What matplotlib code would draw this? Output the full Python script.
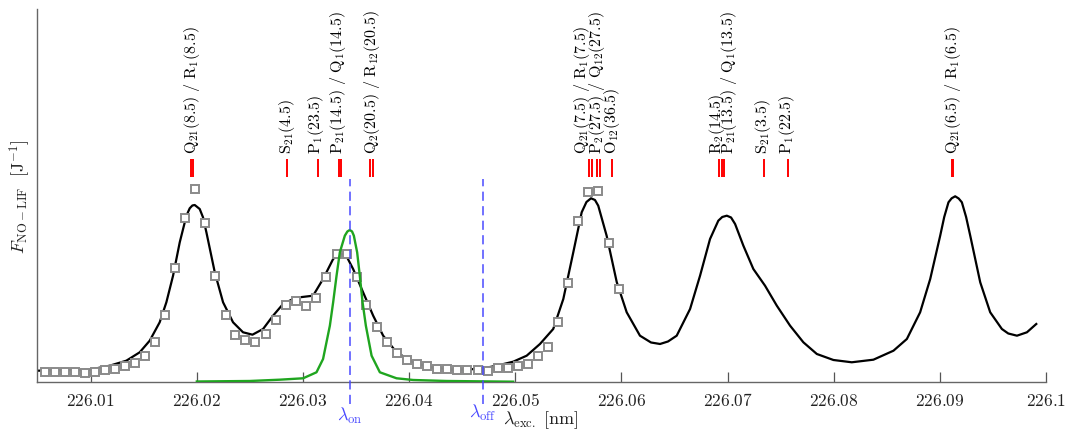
import matplotlib
matplotlib.use('Agg')
import matplotlib.pyplot as plt
from matplotlib.ticker import FuncFormatter

plt.rcParams['mathtext.fontset'] = 'cm'
plt.rcParams['font.family'] = ['DejaVu Serif']

# fitted spectrum (black line)
fit_wl = [226.00503, 226.00991, 226.01179, 226.01336, 226.01462, 226.01556, 226.01650,
          226.01713, 226.01776, 226.01839, 226.01902, 226.01933, 226.01958, 226.01980,
          226.02027, 226.02058, 226.02090, 226.02169, 226.02247, 226.02341, 226.02435,
          226.02524, 226.02624, 226.02718, 226.02812, 226.02907, 226.02970, 226.03095,
          226.03189, 226.03284, 226.03328, 226.03363, 226.03385, 226.03410, 226.03472,
          226.03566, 226.03661, 226.03755, 226.03881, 226.04038, 226.04195, 226.04415,
          226.04666, 226.04824, 226.04980, 226.05107, 226.05232, 226.05357, 226.05452,
          226.05546, 226.05625, 226.05670, 226.05713, 226.05750, 226.05781, 226.05860,
          226.05955, 226.06049, 226.06174, 226.06278, 226.06363, 226.06438, 226.06520,
          226.06646, 226.06740, 226.06834, 226.06912, 226.06949, 226.06992, 226.07032,
          226.07070, 226.07148, 226.07242, 226.07352, 226.07463, 226.07588, 226.07713,
          226.07840, 226.07996, 226.08169, 226.08373, 226.08562, 226.08688, 226.08813,
          226.08908, 226.09002, 226.09040, 226.09080, 226.09110, 226.09143, 226.09176,
          226.09206, 226.09246, 226.09285, 226.09379, 226.09473, 226.09583, 226.09643,
          226.09725, 226.09819, 226.09907]
fit_val = [0.113, 0.123, 0.163, 0.213, 0.297, 0.413, 0.597,
           0.797, 1.063, 1.397, 1.663, 1.737, 1.765, 1.77,
           1.73, 1.647, 1.497, 1.097, 0.797, 0.597, 0.497,
           0.473, 0.53, 0.663, 0.78, 0.83, 0.847, 0.863,
           1.03, 1.23, 1.27, 1.28, 1.275, 1.257, 1.13,
           0.897, 0.663, 0.463, 0.297, 0.197, 0.147, 0.123,
           0.13, 0.163, 0.203, 0.263, 0.38, 0.53, 0.83,
           1.297, 1.697, 1.80, 1.837, 1.82, 1.763, 1.463,
           1.0, 0.697, 0.463, 0.395, 0.38, 0.405, 0.463,
           0.73, 1.063, 1.43, 1.613, 1.65, 1.663, 1.645,
           1.58, 1.363, 1.13, 0.963, 0.763, 0.563, 0.397,
           0.28, 0.22, 0.197, 0.223, 0.313, 0.43, 0.697,
           1.03, 1.463, 1.65, 1.797, 1.837, 1.857, 1.835,
           1.797, 1.65, 1.463, 0.997, 0.697, 0.53, 0.485,
           0.463, 0.497, 0.58]

# measured points (grey squares)
meas_wl = [226.00566, 226.00661, 226.00755, 226.00849, 226.00943, 226.01038, 226.01132,
           226.01226, 226.01320, 226.01415, 226.01509, 226.01603, 226.01697, 226.01792,
           226.01886, 226.01980, 226.02081, 226.02175, 226.02270, 226.02364, 226.02458,
           226.02552, 226.02647, 226.02741, 226.02838, 226.02932, 226.03026, 226.03121,
           226.03215, 226.03316, 226.03410, 226.03504, 226.03598, 226.03693, 226.03787,
           226.03881, 226.03976, 226.04070, 226.04164, 226.04264, 226.04358, 226.04452,
           226.04547, 226.04645, 226.04739, 226.04833, 226.04927, 226.05022, 226.05116,
           226.05213, 226.05310, 226.05404, 226.05499, 226.05593, 226.05687, 226.05781,
           226.05879, 226.05974]
meas_val = [0.10, 0.10, 0.10, 0.10, 0.093, 0.10, 0.117,
            0.13, 0.157, 0.19, 0.26, 0.403, 0.67, 1.143,
            1.64, 1.927, 1.59, 1.06, 0.673, 0.473, 0.417,
            0.40, 0.48, 0.617, 0.77, 0.813, 0.763, 0.843,
            1.047, 1.283, 1.283, 1.047, 0.77, 0.547, 0.397,
            0.287, 0.22, 0.18, 0.163, 0.127, 0.127, 0.12,
            0.12, 0.12, 0.113, 0.143, 0.143, 0.157, 0.18,
            0.257, 0.353, 0.597, 0.987, 1.61, 1.897, 1.913,
            1.39, 0.933]

# laser profile (green)
laser_wl = [226.02000, 226.02499, 226.02781, 226.03001, 226.03127, 226.03189, 226.03253,
            226.03284, 226.03316, 226.03347, 226.03394, 226.03418, 226.03441, 226.03462,
            226.03479, 226.03510, 226.03535, 226.03561, 226.03592, 226.03646, 226.03724,
            226.03881, 226.04038, 226.04353, 226.04980]
laser_val = [0.005, 0.01, 0.023, 0.037, 0.097, 0.23, 0.563,
             0.797, 1.063, 1.297, 1.463, 1.505, 1.52, 1.505,
             1.463, 1.297, 1.063, 0.797, 0.563, 0.263, 0.097,
             0.037, 0.02, 0.01, 0.003]

lambda_on = 226.03441
lambda_off = 226.04692

# transition positions (red marks)
line_wl = [226.01947, 226.01966, 226.02850, 226.03137, 226.03340, 226.03359, 226.03630,
           226.03655, 226.05696, 226.05719, 226.05766, 226.05797, 226.05913, 226.06922,
           226.06944, 226.06966, 226.07343, 226.07566, 226.09113, 226.09122]

label_wl = [226.01958, 226.02845, 226.03127, 226.03331, 226.03646, 226.05625, 226.05766,
            226.05907, 226.06900, 226.07008, 226.07337, 226.07557, 226.09118]
label_txt = [r'$\mathrm{Q}_{21}(8.5)\ /\ \mathrm{R}_{1}(8.5)$',
             r'$\mathrm{S}_{21}(4.5)$',
             r'$\mathrm{P}_{1}(23.5)$',
             r'$\mathrm{P}_{21}(14.5)\ /\ \mathrm{Q}_{1}(14.5)$',
             r'$\mathrm{Q}_{2}(20.5)\ /\ \mathrm{R}_{12}(20.5)$',
             r'$\mathrm{Q}_{21}(7.5)\ /\ \mathrm{R}_{1}(7.5)$',
             r'$\mathrm{P}_{2}(27.5)\ /\ \mathrm{Q}_{12}(27.5)$',
             r'$\mathrm{O}_{12}(36.5)$',
             r'$\mathrm{R}_{2}(14.5)$',
             r'$\mathrm{P}_{21}(13.5)\ /\ \mathrm{Q}_{1}(13.5)$',
             r'$\mathrm{S}_{21}(3.5)$',
             r'$\mathrm{P}_{1}(22.5)$',
             r'$\mathrm{Q}_{21}(6.5)\ /\ \mathrm{R}_{1}(6.5)$']

xticks = [226.01, 226.02, 226.03, 226.04, 226.05, 226.06, 226.07, 226.08, 226.09, 226.1]

fig = plt.figure(figsize=(10.65, 4.31), dpi=100)
ax = fig.add_axes([0.035, 0.1114, 0.9473, 0.8654])

ax.plot(fit_wl, fit_val, color='black', lw=1.6, zorder=2, solid_joinstyle='round')
ax.plot(meas_wl, meas_val, ls='none', marker='s', ms=5.5, mfc='white', mec='#8a8a8a',
        mew=1.4, zorder=3)
ax.plot(laser_wl, laser_val, color='#1fa51f', lw=1.7, zorder=4, solid_joinstyle='round')

ax.vlines(line_wl, 2.05, 2.23, color='red', lw=1.4, zorder=3)
for x, t in zip(label_wl, label_txt):
    ax.text(x, 2.29, t, rotation=90, ha='center', va='bottom', fontsize=11.5)

blue = '#4a4aff'
for x in (lambda_on, lambda_off):
    ax.plot([x, x], [-0.22, 2.03], color=blue, ls='--', dashes=(6, 3.5), lw=1.1,
            clip_on=False, zorder=5)
ax.text(lambda_on, -0.33, r'$\lambda_{\mathrm{on}}$', color=blue, ha='center', va='center',
        fontsize=13)
ax.text(lambda_off, -0.30, r'$\lambda_{\mathrm{off}}$', color=blue, ha='center', va='center',
        fontsize=13)
ax.text(226.0524, -0.375, r'$\lambda_{\mathrm{exc.}}\ [\mathrm{nm}]$', color='#222222',
        ha='center', va='center', fontsize=13)
ax.text(-0.0172, 0.5, r'$F_{\mathrm{NO-LIF}}\ \ [\mathrm{J}^{-1}]$', transform=ax.transAxes,
        rotation=90, ha='center', va='center', fontsize=13, color='#222222')

ax.set_xlim(226.00497, 226.1)
ax.set_ylim(0, 3.73)
ax.set_xticks(xticks)
ax.xaxis.set_major_formatter(FuncFormatter(lambda v, p: f'${v:g}$'))
ax.tick_params(axis='x', direction='in', length=7, width=0.9, color='#555555',
               labelsize=12.5, pad=7, labelcolor='#222222')
ax.set_yticks([])
for s in ('top', 'right'):
    ax.spines[s].set_visible(False)
for s in ('left', 'bottom'):
    ax.spines[s].set_color('#666666')
    ax.spines[s].set_linewidth(1.0)

fig.savefig('out.png', dpi=100)
